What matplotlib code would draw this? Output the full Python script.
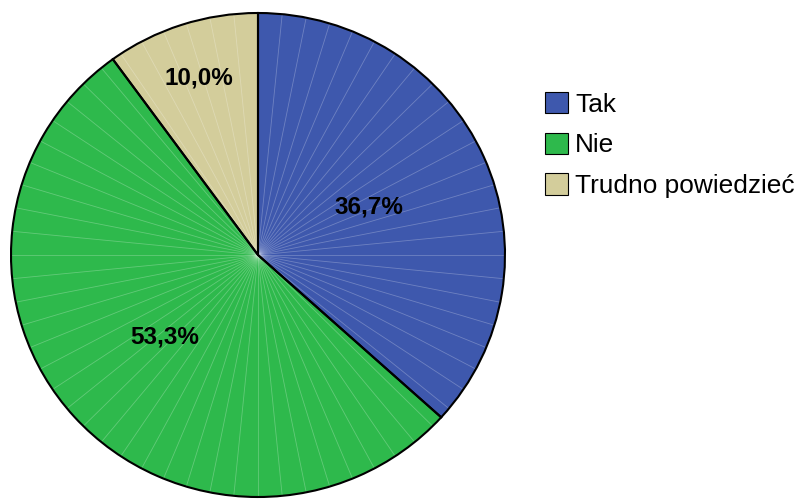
import matplotlib.pyplot as plt
import numpy as np

plt.rcParams['font.family'] = ['Liberation Sans', 'DejaVu Sans']

categories = ['Tak', 'Nie', 'Trudno powiedzieć']
values = [36.7, 53.3, 10.0]
labels = ['36,7%', '53,3%', '10,0%']
colors = ['#3e58ad', '#2eb94c', '#d3cd9b']

fig = plt.figure(figsize=(7.97, 4.99), dpi=100)
# pie is slightly wider than tall in the original
ax = fig.add_axes([11 / 797, 2 / 499, 494 / 797, 484 / 499])

wedges, _ = ax.pie(values, colors=colors, startangle=90, counterclock=False,
                   radius=1, wedgeprops=dict(linewidth=0, zorder=1))

# faint seams of the faceted original
for a in np.arange(0, 360, 360 / 64):
    t = np.deg2rad(a)
    ax.plot([0, np.cos(t)], [0, np.sin(t)], color='white', lw=0.6, alpha=0.25, zorder=2)

# slice borders on top
ax.pie(values, colors=['none'] * 3, startangle=90, counterclock=False, radius=1,
       wedgeprops=dict(edgecolor='black', linewidth=1.5, fill=False, clip_on=False, zorder=3))

# label positions (fraction of radius along slice middle)
label_r = [0.49, 0.51, 0.77]
start = 90
for v, lab, r in zip(values, labels, label_r):
    mid = np.deg2rad(start - v * 3.6 / 2)
    ax.text(r * np.cos(mid), r * np.sin(mid), lab, ha='center', va='center',
            fontsize=17.5, fontweight='bold', zorder=5)
    start -= v * 3.6

ax.set_aspect('auto')
ax.set_xlim(-1, 1)
ax.set_ylim(-1, 1)
ax.axis('off')

handles = [plt.Rectangle((0, 0), 1, 1, facecolor=c, edgecolor='black', linewidth=0.8)
           for c in colors]
fig.legend(handles, categories, loc='upper left', bbox_to_anchor=(545 / 797, 1 - 92 / 499),
           frameon=False, fontsize=18.9, handlelength=0.88, handleheight=0.88,
           handletextpad=0.27, labelspacing=0.6, borderaxespad=0, borderpad=0)

fig.savefig('out.png', dpi=100)
